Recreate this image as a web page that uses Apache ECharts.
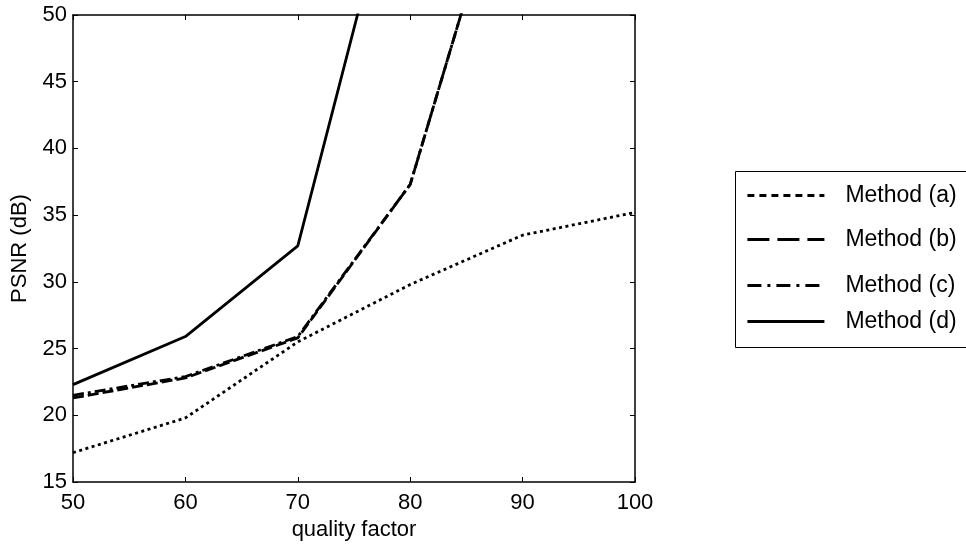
<!DOCTYPE html>
<html>
<head>
<meta charset="utf-8">
<script src="https://cdn.jsdelivr.net/npm/echarts@6/dist/echarts.min.js"></script>
<style>
  html, body { margin: 0; padding: 0; background: #fff; }
  #container { width: 966px; height: 548px; }
</style>
</head>
<body>
<div id="container"></div>
<script>
	var qualityFactor = [50, 60, 70, 80, 90, 100];
	// values beyond 50 dB leave the plot, they set the slope of the clipped lines
	var methodA = [17.2, 19.8, 25.5, 29.8, 33.5, 35.2];
	var methodB = [21.3, 22.8, 25.8, 37.3, 65.5, 80];
	var methodC = [21.5, 22.9, 25.9, 37.3, 65.5, 80];
	var methodD = [22.3, 25.9, 32.7, 65.3, 90, 110];
	var names = ['Method (a)', 'Method (b)', 'Method (c)', 'Method (d)'];

	function pairs(ys) {
		var out = [];
		for (var i = 0; i < qualityFactor.length; i++) {
			out.push([qualityFactor[i], ys[i]]);
		}
		return out;
	}

	var font = 'Liberation Sans, Arial, sans-serif';
	var myChart = echarts.init(document.getElementById('container'));

	function makeSeries(name, ys, dash) {
		return {
			name: name,
			type: 'line',
			data: pairs(ys),
			symbol: 'none',
			clip: true,
			itemStyle: { color: '#000' },
			lineStyle: { color: '#000', width: 2.8, type: dash },
			emphasis: { disabled: true }
		};
	}

	// one legend per row, the rows in the picture are not evenly spaced
	var legendRows = [196, 240, 286, 322];
	var legendDash = [[7, 5], [22, 8], [14, 6, 3, 6], 'solid'];
	var legends = [];
	for (var i = 0; i < names.length; i++) {
		legends.push({
			left: 746,
			top: legendRows[i] - 12,
			padding: 0,
			itemWidth: 77,
			itemHeight: 24,
			itemGap: 10,
			itemStyle: { opacity: 0 },
			textStyle: { fontFamily: font, fontSize: 23, color: '#000', padding: [0, 0, 0, 16] },
			data: [{ name: names[i], itemStyle: { opacity: 0 }, lineStyle: { type: legendDash[i], width: 2.8, color: '#000' } }],
			selectedMode: false
		});
	}

	var axisCommon = {
		type: 'value',
		axisLine: { show: true, lineStyle: { color: '#000', width: 1.5 } },
		axisTick: { show: true, inside: true, length: 5, lineStyle: { color: '#000', width: 1 } },
		splitLine: { show: false }
	};

	var option = {
		animation: false,
		backgroundColor: '#fff',
		grid: { left: 73, right: 331, top: 15, bottom: 66, containLabel: false, outerBoundsMode: 'none' },
		legend: legends,
		graphic: [{
			type: 'rect',
			shape: { x: 735.5, y: 171.5, width: 260, height: 176 },
			style: { fill: 'none', stroke: '#000', lineWidth: 1 },
			z: 0
		}],
		xAxis: [
			Object.assign({}, axisCommon, {
				min: 50, max: 100, interval: 10,
				position: 'bottom',
				name: 'quality factor',
				nameLocation: 'middle',
				nameGap: 36,
				nameTextStyle: { fontFamily: font, fontSize: 22, color: '#000' },
				axisLabel: { fontFamily: font, fontSize: 22, color: '#000', margin: 10 }
			}),
			Object.assign({}, axisCommon, {
				min: 50, max: 100, interval: 10,
				position: 'top',
				axisLabel: { show: false }
			})
		],
		yAxis: [
			Object.assign({}, axisCommon, {
				min: 15, max: 50, interval: 5,
				position: 'left',
				name: 'PSNR (dB)',
				nameLocation: 'middle',
				nameGap: 42,
				nameTextStyle: { fontFamily: font, fontSize: 22, color: '#000' },
				axisLabel: { fontFamily: font, fontSize: 22, color: '#000', margin: 6 }
			}),
			Object.assign({}, axisCommon, {
				min: 15, max: 50, interval: 5,
				position: 'right',
				axisLabel: { show: false }
			})
		],
		series: [
			makeSeries(names[0], methodA, [3, 3.5]),
			makeSeries(names[1], methodB, [11, 4]),
			makeSeries(names[2], methodC, [11, 4, 3, 4]),
			makeSeries(names[3], methodD, 'solid')
		]
	};

	if (option && typeof option === "object") {
		myChart.setOption(option, true);
	}
</script>
</body>
</html>
